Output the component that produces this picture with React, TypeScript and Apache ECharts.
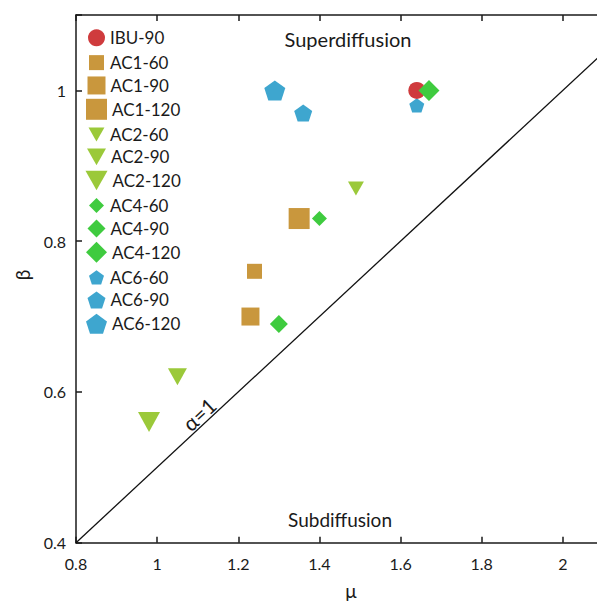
import React, { useEffect, useRef } from 'react';
import * as echarts from 'echarts';

// Samples and their fitted exponents
const samples = ['IBU-90', 'AC1-60', 'AC1-90', 'AC1-120', 'AC2-60', 'AC2-90', 'AC2-120', 'AC4-60', 'AC4-90', 'AC4-120', 'AC6-60', 'AC6-90', 'AC6-120'];
const muValues = [1.64, 1.24, 1.23, 1.35, 1.49, 1.05, 0.98, 1.40, 1.30, 1.67, 1.64, 1.36, 1.29];
const betaValues = [1.00, 0.76, 0.70, 0.83, 0.87, 0.62, 0.56, 0.83, 0.69, 1.00, 0.98, 0.97, 1.00];

// Boundary alpha = 1 (beta = mu / 2)
const alphaMu = [0.8, 2.2];
const alphaBeta = [0.4, 1.1];

// Axis ranges
const muRange = [0.8, 2.2];
const betaRange = [0.4, 1.1];

const PENTAGON = 'path://M50,0 L97.55,34.55 L79.39,90.45 L20.61,90.45 L2.45,34.55 Z';
const TRIANGLE_DOWN = 'path://M0,0 L100,0 L50,88 Z';

type Mark = { symbol: string; w: number; h: number; color: string; z?: number };

const RED = '#cf3b3d';
const GOLD = '#c9973d';
const LIME = '#9bc93a';
const GREEN = '#3fcb3f';
const BLUE = '#3ea6cf';

const marks: Mark[] = [
  { symbol: 'circle', w: 17, h: 17, color: RED, z: 3 },
  { symbol: 'rect', w: 15, h: 15, color: GOLD },
  { symbol: 'rect', w: 18, h: 18, color: GOLD },
  { symbol: 'rect', w: 21, h: 21, color: GOLD },
  { symbol: TRIANGLE_DOWN, w: 16, h: 14, color: LIME },
  { symbol: TRIANGLE_DOWN, w: 19, h: 17, color: LIME },
  { symbol: TRIANGLE_DOWN, w: 22, h: 20, color: LIME },
  { symbol: 'diamond', w: 15, h: 15, color: GREEN, z: 4 },
  { symbol: 'diamond', w: 18, h: 18, color: GREEN, z: 4 },
  { symbol: 'diamond', w: 21, h: 21, color: GREEN, z: 4 },
  { symbol: PENTAGON, w: 15, h: 14.3, color: BLUE },
  { symbol: PENTAGON, w: 18, h: 17.1, color: BLUE },
  { symbol: PENTAGON, w: 21, h: 20, color: BLUE },
];

const FONT = 'Lato';
const INK = '#1a1a1a';

const isEdge = (v: number, edge: number) => Math.abs(v - edge) < 1e-6;

export default function App() {
  const ref = useRef<HTMLDivElement>(null);

  useEffect(() => {
    if (!ref.current) return;
    const chart = echarts.init(ref.current, undefined, { renderer: 'svg' });

    const scatterSeries = samples.map((name, i) => ({
      type: 'scatter',
      name,
      data: [[muValues[i], betaValues[i]]],
      symbol: marks[i].symbol,
      symbolSize: [marks[i].w, marks[i].h],
      itemStyle: { color: marks[i].color, opacity: 1 },
      emphasis: { disabled: true },
      z: marks[i].z ?? 2,
    }));

    const legendX = 96.5;
    const textStart = 110;
    const legends = samples.map((name, i) => {
      const m = marks[i];
      const rowY = 37.8 + 23.83 * i;
      return {
        data: [name],
        left: legendX - m.w / 2,
        top: rowY - m.h / 2,
        itemWidth: m.w,
        itemHeight: m.h,
        padding: 0,
        selectedMode: false,
        textStyle: {
          fontFamily: FONT,
          fontSize: 17,
          color: INK,
          padding: [0, 0, 0, Math.max(0, textStart - (legendX + m.w / 2 + 5))],
        },
      };
    });

    const axisCommon = {
      type: 'value',
      axisLine: { show: true, lineStyle: { color: INK, width: 1.5 } },
      axisTick: { show: true, inside: true, length: 6, lineStyle: { color: INK, width: 1.5 } },
      splitLine: { show: false },
    };

    chart.setOption({
      animation: false,
      backgroundColor: '#ffffff',
      grid: { left: 76, right: 6, top: 15, bottom: 58.3 },
      xAxis: [
        {
          ...axisCommon,
          position: 'bottom',
          min: muRange[0],
          max: muRange[1],
          interval: 0.2,
          axisLabel: {
            fontFamily: FONT,
            fontSize: 16,
            color: INK,
            margin: 13,
            formatter: (v: number) => (isEdge(v, muRange[1]) ? '' : String(Math.round(v * 10) / 10)),
          },
        },
        {
          ...axisCommon,
          position: 'top',
          min: muRange[0],
          max: muRange[1],
          interval: 0.2,
          axisLabel: { show: false },
        },
      ],
      yAxis: [
        {
          ...axisCommon,
          position: 'left',
          min: betaRange[0],
          max: betaRange[1],
          interval: 0.2,
          axisLabel: {
            fontFamily: FONT,
            fontSize: 16,
            color: INK,
            margin: 10,
            formatter: (v: number) => (isEdge(v, betaRange[1]) ? '' : String(Math.round(v * 10) / 10)),
          },
        },
        {
          ...axisCommon,
          position: 'right',
          min: betaRange[0],
          max: betaRange[1],
          interval: 0.2,
          axisLabel: { show: false },
        },
      ],
      legend: legends,
      series: [
        {
          type: 'line',
          name: 'alpha',
          data: alphaMu.map((m, i) => [m, alphaBeta[i]]),
          symbol: 'none',
          lineStyle: { color: '#111111', width: 1.3 },
          silent: true,
          z: 1,
        },
        ...scatterSeries,
      ],
      graphic: [
        {
          type: 'text',
          x: 348,
          y: 38.5,
          style: { text: 'Superdiffusion', font: `20px ${FONT}`, fill: INK, align: 'center', verticalAlign: 'middle' },
        },
        {
          type: 'text',
          x: 340,
          y: 519,
          style: { text: 'Subdiffusion', font: `19px ${FONT}`, fill: INK, align: 'center', verticalAlign: 'middle' },
        },
        {
          type: 'text',
          x: 351,
          y: 590,
          style: { text: 'μ', font: `19px ${FONT}`, fill: INK, align: 'center', verticalAlign: 'middle' },
        },
        {
          type: 'text',
          x: 22,
          y: 275,
          rotation: Math.PI / 2,
          style: { text: 'β', font: `19px ${FONT}`, fill: INK, align: 'center', verticalAlign: 'middle' },
        },
        {
          type: 'text',
          x: 199,
          y: 414,
          rotation: Math.atan(528 / 568),
          style: { text: 'α=1', font: `21px ${FONT}`, fill: INK, align: 'center', verticalAlign: 'middle' },
        },
      ],
    });

    return () => chart.dispose();
  }, []);

  return (
    <div style={{ position: 'fixed', left: 0, top: 0, width: 597, height: 601, overflow: 'hidden', background: '#fff' }}>
      <div ref={ref} style={{ width: 650, height: 601 }} />
    </div>
  );
}
